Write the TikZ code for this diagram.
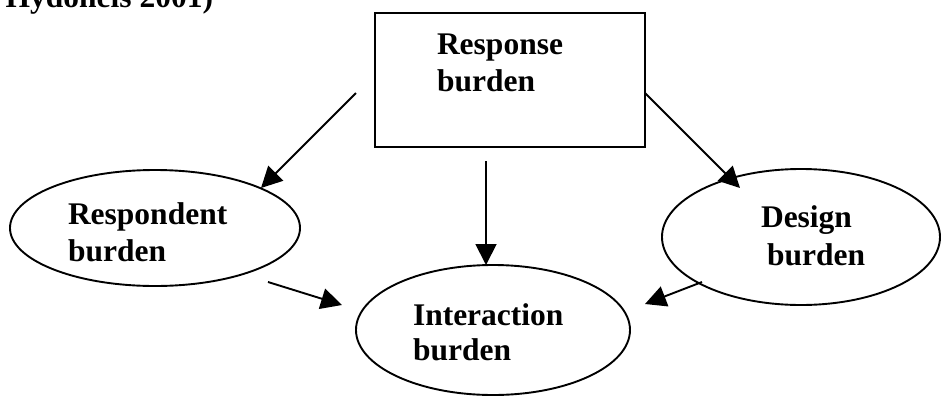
\documentclass[tikz,border=0pt]{standalone}
\usepackage{fontspec}
\setmainfont{Liberation Serif}
\usetikzlibrary{arrows.meta,shapes.geometric,calc}

\begin{document}
\begin{tikzpicture}[x=1pt,y=-1pt,
  every node/.style={inner sep=0pt,outer sep=0pt},
  line/.style={line width=1.9pt},
  oval/.style={line, draw, ellipse},
  box/.style={line, draw, rectangle},
  lbl/.style={anchor=base west, font=\bfseries\fontsize{31.5}{37}\selectfont},
  arr/.style={line, -{Triangle[length=21pt,width=21pt]}}
]
\useasboundingbox (0,0) rectangle (943,397);
\clip (0,0) rectangle (943,397);

% caption fragment along the top edge
\node[lbl, anchor=base east] (cap) at (213,7) {Hydoneis 2001)};

% shapes
\node[box, minimum width=270pt, minimum height=134pt] (resp) at (510,80) {};
\node[oval, minimum width=290pt, minimum height=116pt] (respondent) at (155,228) {};
\node[oval, minimum width=274pt, minimum height=130pt] (interaction) at (493,330) {};
\node[oval, minimum width=278pt, minimum height=136pt] (design) at (801,237) {};

% labels
\node[lbl] (respA) at (437,54) {Response};
\node[lbl] (respB) at (437,91) {burden};
\node[lbl] (rdtA) at (68,224) {Respondent};
\node[lbl] (rdtB) at (68,261) {burden};
\node[lbl] (intA) at (413,325) {Interaction};
\node[lbl] (intB) at (413,360) {burden};
\node[lbl] (desA) at (761,227) {Design};
\node[lbl] (desB) at (767,265) {burden};

% arrows
\draw[arr] ($(resp.center)+(-154,13)$) -- ($(respondent.center)+(106,-40)$);
\draw[arr] ($(resp.center)+(135,13)$) -- ($(design.center)+(-61,-49)$);
\draw[arr] ($(resp.center)+(-24,81)$) -- ($(interaction.center)+(-7,-65)$);
\draw[arr] ($(respondent.center)+(113,54)$) -- ($(interaction.center)+(-151,-25)$);
\draw[arr] ($(design.center)+(-99,45)$) -- ($(interaction.center)+(152,-26)$);
\end{tikzpicture}
\end{document}
